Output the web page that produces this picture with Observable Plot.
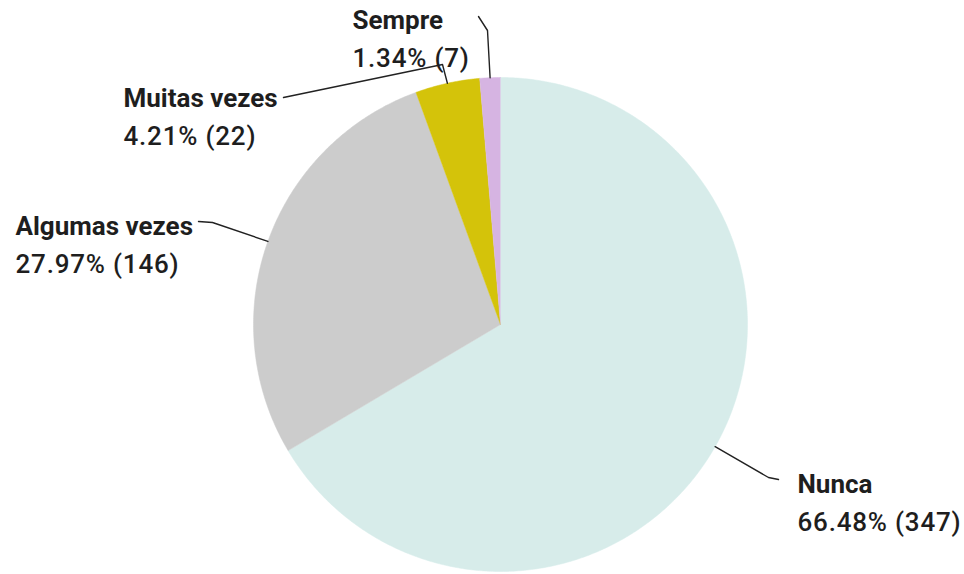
<!DOCTYPE html>
<html>
<head>
<meta charset="utf-8">
<script src="https://cdn.jsdelivr.net/npm/d3@7"></script>
<script src="https://cdn.jsdelivr.net/npm/@observablehq/plot@0.6"></script>
<style>
  html, body { margin: 0; padding: 0; background: #fff; }
  #chart svg { display: block; }
  .vals text { letter-spacing: 0.8px; }
</style>
</head>
<body>
<div id="chart"></div>
<script>
// ---- data ----
const categories = ["Nunca", "Algumas vezes", "Muitas vezes", "Sempre"];
const counts = [347, 146, 22, 7];
const percentLabels = ["66.48%", "27.97%", "4.21%", "1.34%"];
const colors = ["#d7ecea", "#cccccc", "#d4c30a", "#d6b4e2"];

// ---- layout (pixels) ----
const W = 964, H = 574;
const CX = 500, CY = 324, R = 247;
const labelAnchors = [[797, 492], [15, 234], [123, 106], [352, 28]]; // name baseline
const lineGap = 38;
const leaderBends = [
  [[768, 477], [778, 479]],
  [[212, 222], [198, 221]],
  [[442, 64], [283, 97]],
  [[487, 30], [478, 16]]
];

// ---- pie geometry from data ----
const pie = d3.pie().sort(null).value(d => d.count)
  .startAngle(0).endAngle(2 * Math.PI);
const rows = categories.map((c, i) => ({ key: c, count: counts[i], pct: percentLabels[i] }));
const arcs = pie(rows);

const pt = (a, r) => ({ x: CX + r * Math.sin(a), y: CY - r * Math.cos(a) });

const polys = [];
arcs.forEach(a => {
  const k = a.data.key;
  polys.push({ key: k, ...pt(0, 0) });
  const n = Math.max(2, Math.ceil((a.endAngle - a.startAngle) / (Math.PI / 360)));
  for (let j = 0; j <= n; j++) {
    const t = a.startAngle + (a.endAngle - a.startAngle) * j / n;
    polys.push({ key: k, ...pt(t, R) });
  }
});

const leaders = [];
arcs.forEach((a, i) => {
  const mid = (a.startAngle + a.endAngle) / 2;
  leaders.push({ key: a.data.key, ...pt(mid, R) });
  leaderBends[i].forEach(([x, y]) => leaders.push({ key: a.data.key, x, y }));
});

const labels = rows.map((d, i) => ({
  name: d.key,
  value: `${d.pct} (${d.count})`,
  x: labelAnchors[i][0],
  y: labelAnchors[i][1]
}));

const chart = Plot.plot({
  width: W,
  height: H,
  margin: 0,
  x: { domain: [0, W], range: [0, W], axis: null },
  y: { domain: [0, H], range: [0, H], axis: null },
  color: { domain: categories, range: colors },
  style: { fontFamily: "Roboto, 'Liberation Sans', sans-serif", background: "#fff" },
  marks: [
    Plot.line(polys, { x: "x", y: "y", z: "key", fill: "key", stroke: "key", strokeWidth: 0.5 }),
    Plot.line(leaders, { x: "x", y: "y", z: "key", stroke: "#222", strokeWidth: 1.4 }),
    Plot.text(labels, { x: "x", y: "y", text: "name", textAnchor: "start", lineAnchor: "bottom",
      fontSize: 26, fontWeight: 700, fill: "#1e1e1e" }),
    Plot.text(labels, { x: "x", y: d => d.y + lineGap, text: "value", textAnchor: "start", lineAnchor: "bottom",
      fontSize: 26, fontWeight: 500, fill: "#1e1e1e", className: "vals" })
  ]
});
document.getElementById("chart").appendChild(chart);
</script>
</body>
</html>
